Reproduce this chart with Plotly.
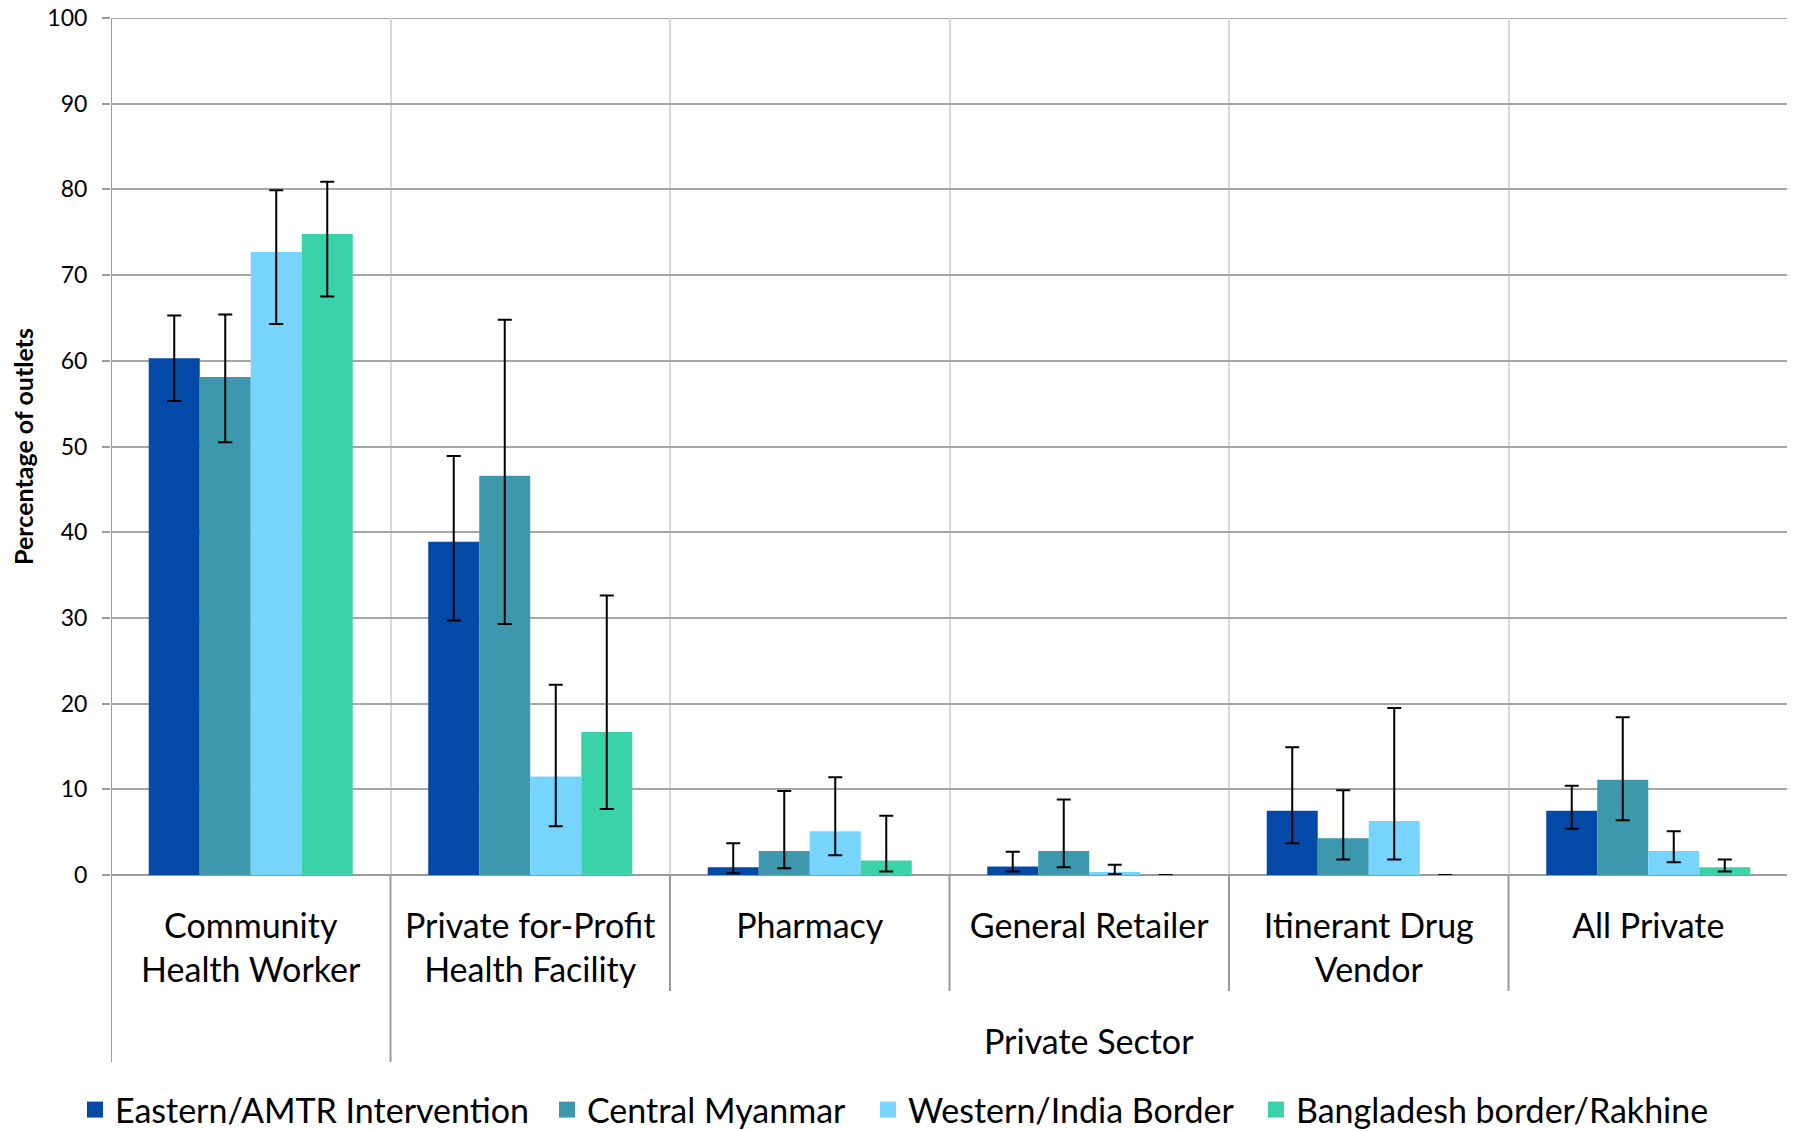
import plotly.graph_objects as go

categories = ["Community<br>Health Worker", "Private for-Profit<br>Health Facility", "Pharmacy",
              "General Retailer", "Itinerant Drug<br>Vendor", "All Private"]
series_names = ["Eastern/AMTR Intervention", "Central Myanmar", "Western/India Border", "Bangladesh border/Rakhine"]
colors = ["#034AA8", "#3D97AD", "#77D4FC", "#3AD3A9"]

eastern = [60.3, 38.9, 0.9, 1.0, 7.5, 7.5]
eastern_lo = [55.3, 29.7, 0.2, 0.4, 3.7, 5.4]
eastern_hi = [65.3, 48.9, 3.7, 2.7, 14.9, 10.4]

central = [58.1, 46.6, 2.8, 2.8, 4.3, 11.1]
central_lo = [50.5, 29.3, 0.8, 0.9, 1.8, 6.4]
central_hi = [65.4, 64.8, 9.8, 8.8, 9.9, 18.4]

western = [72.7, 11.5, 5.1, 0.35, 6.3, 2.8]
western_lo = [64.3, 5.7, 2.3, 0.1, 1.8, 1.5]
western_hi = [79.9, 22.2, 11.4, 1.2, 19.5, 5.1]

bangladesh = [74.8, 16.7, 1.7, 0.0, 0.0, 0.9]
bangladesh_lo = [67.5, 7.7, 0.4, 0.0, 0.0, 0.4]
bangladesh_hi = [80.9, 32.6, 6.9, 0.0, 0.0, 1.8]

y_ticks = [0, 10, 20, 30, 40, 50, 60, 70, 80, 90, 100]
group_label = "Private Sector"
y_title = "Percentage of outlets"

FONT = "Lato"

# page body has an 8px margin in the browser; compensate
W, H = 1787, 1123
ML, MR, MT, MB = 103, 7, 10, 256
plot_w = W - ML - MR
plot_h = H - MT - MB
plot_bottom = H - MB

fig = go.Figure()
legend_ids = ["legend", "legend2", "legend3", "legend4"]
for idx, (name, col, vals, lo, hi) in enumerate([
    (series_names[0], colors[0], eastern, eastern_lo, eastern_hi),
    (series_names[1], colors[1], central, central_lo, central_hi),
    (series_names[2], colors[2], western, western_lo, western_hi),
    (series_names[3], colors[3], bangladesh, bangladesh_lo, bangladesh_hi),
]):
    fig.add_trace(go.Bar(
        x=categories, y=vals, name=name, showlegend=False,
        marker=dict(color=col, line=dict(width=0)),
        error_y=dict(type="data", symmetric=False,
                     array=[h - v for h, v in zip(hi, vals)],
                     arrayminus=[v - l for v, l in zip(vals, lo)],
                     color="black", thickness=2, width=7),
    ))
    # legend-only swatch (larger square symbol)
    fig.add_trace(go.Scatter(
        x=[None], y=[None], name=name, mode="markers", legend=legend_ids[idx],
        marker=dict(symbol="square", size=20, color=col), showlegend=True,
    ))

short_y = -(983 - plot_bottom) / plot_h
long_y = -(1054 - plot_bottom) / plot_h

n = len(categories)
shapes = []
# light vertical gridline at the right edge of the plot
shapes.append(dict(type="line", xref="x", yref="paper", x0=n - 0.5, x1=n - 0.5, y0=0, y1=1,
                   line=dict(color="#D9D9D9", width=2), layer="below"))
# top horizontal gridline (at the maximum tick)
shapes.append(dict(type="line", xref="paper", yref="y", x0=0, x1=1, y0=max(y_ticks), y1=max(y_ticks),
                   line=dict(color="#A6A6A6", width=2), layer="below"))
for i in range(n + 1):
    xb = i - 0.5
    bottom = long_y if i in (0, 1) else short_y
    shapes.append(dict(type="line", xref="x", yref="paper", x0=xb, x1=xb, y0=0, y1=bottom,
                       line=dict(color="#9A9A9A", width=2)))
shapes.append(dict(type="line", xref="x", yref="paper", x0=-0.5, x1=-0.5, y0=0, y1=1,
                   line=dict(color="#9A9A9A", width=2)))

# legend text starts (screen px)
legend_text_starts = [115, 587, 908, 1296]
legend_y = -(1102 - plot_bottom) / plot_h
legends = {}
for lid, ts in zip(legend_ids, legend_text_starts):
    legends[lid] = dict(orientation="h", x=(ts - 8 - 40 - ML) / plot_w, xanchor="left",
                        y=legend_y, yanchor="middle", itemsizing="trace",
                        font=dict(size=34, family=FONT), itemwidth=30,
                        bgcolor="rgba(0,0,0,0)")

fig.update_layout(
    shapes=shapes,
    width=W, height=H,
    margin=dict(l=ML, r=MR, t=MT, b=MB, autoexpand=False),
    paper_bgcolor="white", plot_bgcolor="white",
    barmode="group", bargap=0.27, bargroupgap=0,
    font=dict(family=FONT, color="black"),
    showlegend=True,
    annotations=[
        dict(text=group_label, xref="x", yref="paper",
             x=(1 + n - 1) / 2, y=-(1032 - plot_bottom) / plot_h, showarrow=False,
             font=dict(size=34, family=FONT), xanchor="center", yanchor="middle"),
    ],
    **legends,
)

fig.update_xaxes(
    type="category", tickson="boundaries", showgrid=True, gridcolor="#D9D9D9", gridwidth=2,
    ticks="", tickfont=dict(size=34, family=FONT), ticklabelstandoff=28,
    showline=False, range=[-0.5, n - 0.5], automargin=False,
)
fig.update_yaxes(
    range=[0, 100], tickvals=y_ticks, ticks="outside", ticklen=8, tickcolor="#9A9A9A", tickwidth=2,
    showgrid=True, gridcolor="#A6A6A6", gridwidth=2, zeroline=True, zerolinecolor="#9A9A9A", zerolinewidth=2,
    tickfont=dict(size=23, family=FONT), ticklabelstandoff=10, ticklabeloverflow="allow",
    title=dict(text="<b>" + y_title + "</b>", font=dict(size=25, family=FONT), standoff=26),
    showline=False, automargin=False,
)

fig.write_html("out.html")
